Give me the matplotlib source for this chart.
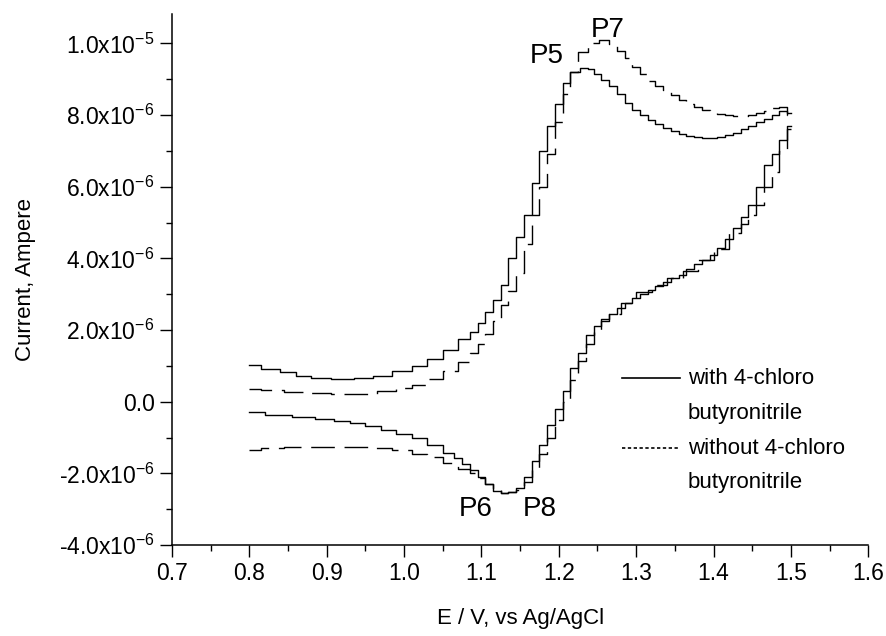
import numpy as np
import matplotlib.pyplot as plt
from matplotlib.ticker import MultipleLocator, FixedLocator, FixedFormatter

plt.rcParams['font.family'] = ['Liberation Sans', 'DejaVu Sans']
plt.rcParams['mathtext.default'] = 'regular'

# with 4-chloro butyronitrile, forward scan (current in 1e-6 A)
with_fwd_x = [0.80, 0.83, 0.85, 0.87, 0.89, 0.92, 0.95, 0.97, 1.00, 1.02, 1.04, 1.06,
              1.08, 1.09, 1.10, 1.11, 1.12, 1.13, 1.14, 1.15, 1.16, 1.17, 1.18, 1.19,
              1.20, 1.21, 1.22, 1.235, 1.24, 1.25, 1.26, 1.27, 1.28, 1.29, 1.30, 1.31,
              1.32, 1.33, 1.34, 1.35, 1.36, 1.37, 1.38, 1.39, 1.40, 1.41, 1.42, 1.43,
              1.44, 1.45, 1.46, 1.47, 1.48, 1.49, 1.50]
with_fwd_y = [1.03, 0.92, 0.82, 0.72, 0.66, 0.64, 0.65, 0.72, 0.85, 1.0, 1.2, 1.45,
              1.75, 1.95, 2.2, 2.5, 2.85, 3.25, 4.0, 4.6, 5.2, 6.1, 7.0, 7.7,
              8.3, 8.9, 9.2, 9.3, 9.28, 9.15, 8.98, 8.8, 8.58, 8.35, 8.15, 8.0,
              7.86, 7.75, 7.65, 7.55, 7.48, 7.42, 7.38, 7.36, 7.36, 7.38, 7.43, 7.5,
              7.6, 7.7, 7.8, 7.9, 8.0, 8.12, 8.05]

# with 4-chloro butyronitrile, reverse scan
with_rev_x = [1.50, 1.49, 1.48, 1.47, 1.46, 1.45, 1.44, 1.43, 1.42, 1.41, 1.40, 1.39,
              1.38, 1.37, 1.36, 1.35, 1.34, 1.33, 1.32, 1.31, 1.30, 1.29, 1.28, 1.27,
              1.26, 1.25, 1.24, 1.23, 1.22, 1.21, 1.20, 1.19, 1.18,
              1.17, 1.16, 1.15, 1.14, 1.13, 1.12, 1.11, 1.10, 1.09, 1.08, 1.07, 1.06,
              1.04, 1.02, 1.00, 0.98, 0.96, 0.94, 0.92, 0.90, 0.87, 0.84, 0.80]
with_rev_y = [7.7, 7.3, 6.9, 6.6, 6.0, 5.5, 5.15, 4.85, 4.55, 4.3, 4.1, 3.95,
              3.85, 3.7, 3.55, 3.45, 3.33, 3.22, 3.12, 3.0, 2.9, 2.76, 2.62, 2.45,
              2.3, 2.1, 1.85, 1.35, 0.95, 0.3, -0.2, -0.65, -1.2,
              -1.65, -2.1, -2.4, -2.52, -2.55, -2.48, -2.3, -2.1, -1.9, -1.75, -1.58, -1.42,
              -1.2, -1.02, -0.9, -0.78, -0.68, -0.6, -0.54, -0.49, -0.44, -0.36, -0.28]

# without 4-chloro butyronitrile, forward scan
without_fwd_x = [0.80, 0.83, 0.86, 0.89, 0.92, 0.95, 0.98, 1.00, 1.02, 1.04, 1.06, 1.08,
                 1.09, 1.10, 1.11, 1.12, 1.13, 1.14, 1.15, 1.16, 1.17, 1.18, 1.19, 1.20,
                 1.21, 1.22, 1.23, 1.245, 1.26, 1.27, 1.28, 1.29, 1.30, 1.31, 1.32, 1.33,
                 1.34, 1.35, 1.36, 1.37, 1.38, 1.39, 1.40, 1.41, 1.42, 1.43, 1.44, 1.45,
                 1.46, 1.47, 1.48, 1.49, 1.50]
without_fwd_y = [0.36, 0.33, 0.27, 0.23, 0.22, 0.22, 0.3, 0.38, 0.48, 0.62, 0.85, 1.1,
                 1.35, 1.6, 1.9, 2.25, 2.7, 3.1, 3.6, 4.4, 5.2, 6.0, 6.9, 7.8,
                 8.6, 9.2, 9.75, 10.0, 10.1, 9.98, 9.8, 9.58, 9.35, 9.15, 8.95, 8.82,
                 8.7, 8.55, 8.42, 8.32, 8.22, 8.15, 8.08, 8.03, 8.0, 7.98, 7.97, 8.0,
                 8.05, 8.12, 8.2, 8.22, 8.0]

# without 4-chloro butyronitrile, reverse scan
without_rev_x = [1.50, 1.49, 1.48, 1.47, 1.46, 1.45, 1.44, 1.43, 1.41, 1.39, 1.37, 1.35,
                 1.33, 1.31, 1.29, 1.27, 1.26, 1.25, 1.24, 1.23, 1.22, 1.21, 1.20, 1.19,
                 1.18, 1.17, 1.16, 1.15, 1.14, 1.13, 1.12, 1.11, 1.10, 1.09, 1.08, 1.06,
                 1.04, 1.02, 1.00, 0.97, 0.94, 0.90, 0.86, 0.83, 0.80]
without_rev_y = [7.6, 7.0, 6.4, 6.0, 5.5, 5.2, 4.95, 4.7, 4.25, 3.95, 3.65, 3.45,
                 3.25, 3.05, 2.75, 2.45, 2.25, 2.0, 1.6, 1.15, 0.6, 0.0, -0.5, -1.0,
                 -1.45, -1.9, -2.25, -2.45, -2.53, -2.55, -2.45, -2.3, -2.12, -2.0, -1.88, -1.72,
                 -1.55, -1.45, -1.36, -1.29, -1.26, -1.26, -1.26, -1.3, -1.34]

# peak labels
peak_names = ['P5', 'P7', 'P6', 'P8']
peak_x = [1.185, 1.263, 1.092, 1.176]
peak_y = [9.65, 10.38, -2.99, -2.99]

y_ticks = [-4e-6, -2e-6, 0.0, 2e-6, 4e-6, 6e-6, 8e-6, 1e-5]
y_tick_labels = [r'-4.0x10$^{-6}$', r'-2.0x10$^{-6}$', '0.0', r'2.0x10$^{-6}$',
                 r'4.0x10$^{-6}$', r'6.0x10$^{-6}$', r'8.0x10$^{-6}$', r'1.0x10$^{-5}$']

fig = plt.figure(figsize=(8.86, 6.36), dpi=100)
ax = fig.add_axes([0.194, 0.143, 0.786, 0.835])

dash = (0, (17, 7))
ax.plot(with_fwd_x, np.array(with_fwd_y) * 1e-6, color='black', lw=1.0, drawstyle='steps-mid')
ax.plot(with_rev_x, np.array(with_rev_y) * 1e-6, color='black', lw=1.0, drawstyle='steps-mid')
ax.plot(without_fwd_x, np.array(without_fwd_y) * 1e-6, color='black', lw=1.0,
        linestyle=dash, drawstyle='steps-mid')
ax.plot(without_rev_x, np.array(without_rev_y) * 1e-6, color='black', lw=1.0,
        linestyle=dash, drawstyle='steps-mid')

for name, px, py in zip(peak_names, peak_x, peak_y):
    ax.text(px, py * 1e-6, name, fontsize=20, ha='center', va='center')

# legend drawn by hand so the sample line sits on the first text line
fs = 16
ax.plot([0.647, 0.730], [0.3145, 0.3145], color='black', lw=1.2, transform=ax.transAxes)
ax.text(0.741, 0.3145, 'with 4-chloro', fontsize=fs, va='center', transform=ax.transAxes)
ax.text(0.741, 0.2486, 'butyronitrile', fontsize=fs, va='center', transform=ax.transAxes)
ax.plot([0.647, 0.727], [0.1827, 0.1827], color='black', lw=1.2, linestyle=(0, (2, 1.5)),
        transform=ax.transAxes)
ax.text(0.741, 0.1827, 'without 4-chloro', fontsize=fs, va='center', transform=ax.transAxes)
ax.text(0.741, 0.1186, 'butyronitrile', fontsize=fs, va='center', transform=ax.transAxes)

ax.set_xlim(0.7, 1.6)
ax.set_ylim(-4e-6, 1.082e-5)
ax.xaxis.set_major_locator(MultipleLocator(0.1))
ax.xaxis.set_minor_locator(MultipleLocator(0.05))
ax.xaxis.set_major_formatter(plt.FuncFormatter(lambda v, p: '%.1f' % v))
ax.yaxis.set_major_locator(FixedLocator(y_ticks))
ax.yaxis.set_major_formatter(FixedFormatter(y_tick_labels))
ax.yaxis.set_minor_locator(MultipleLocator(1e-6))

for s in ['top', 'right']:
    ax.spines[s].set_visible(False)
for s in ['left', 'bottom']:
    ax.spines[s].set_linewidth(1.1)
ax.tick_params(which='major', direction='out', length=8.5, width=1.0, labelsize=16.5, pad=4)
ax.tick_params(which='minor', direction='out', length=4.5, width=1.0)

ax.set_xlabel('E / V, vs Ag/AgCl', fontsize=16, labelpad=16)
ax.set_ylabel('Current, Ampere', fontsize=16, labelpad=16)

fig.savefig('out.png', dpi=100)
